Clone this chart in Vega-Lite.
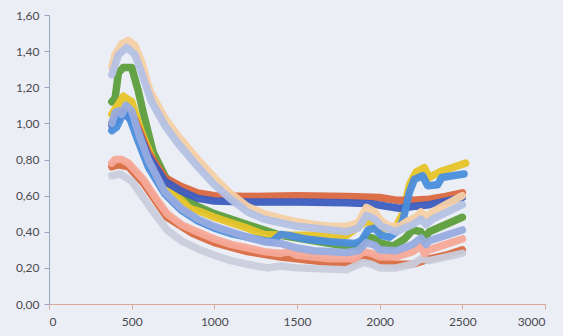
{
  "$schema": "https://vega.github.io/schema/vega-lite/v6.json",
  "width": 496,
  "height": 289,
  "autosize": {"type": "none"},
  "padding": {"left": 49, "top": 15, "right": 18, "bottom": 32},
  "background": "#eceef5",
  "config": {"view": {"stroke": null}, "font": "Lato"},
  "datasets": {
    "spectra": [
      {"s":"k","x":380,"y":0.76},{"s":"k","x":420,"y":0.77},{"s":"k","x":480,"y":0.76},{"s":"k","x":570,"y":0.67},{"s":"k","x":714,"y":0.48},{"s":"k","x":870,"y":0.39},{"s":"k","x":1000,"y":0.34},{"s":"k","x":1200,"y":0.29},{"s":"k","x":1400,"y":0.26},{"s":"k","x":1700,"y":0.23},{"s":"k","x":1850,"y":0.23},{"s":"k","x":1900,"y":0.26},{"s":"k","x":2000,"y":0.24},{"s":"k","x":2100,"y":0.22},{"s":"k","x":2200,"y":0.22},{"s":"k","x":2300,"y":0.25},{"s":"k","x":2400,"y":0.27},{"s":"k","x":2500,"y":0.30},

      {"s":"j","x":380,"y":0.71},{"s":"j","x":430,"y":0.72},{"s":"j","x":500,"y":0.68},{"s":"j","x":600,"y":0.55},{"s":"j","x":714,"y":0.41},{"s":"j","x":800,"y":0.35},{"s":"j","x":914,"y":0.30},{"s":"j","x":1000,"y":0.27},{"s":"j","x":1100,"y":0.24},{"s":"j","x":1200,"y":0.22},{"s":"j","x":1320,"y":0.20},{"s":"j","x":1400,"y":0.21},{"s":"j","x":1500,"y":0.20},{"s":"j","x":1800,"y":0.19},{"s":"j","x":1900,"y":0.23},{"s":"j","x":1950,"y":0.22},{"s":"j","x":2000,"y":0.20},{"s":"j","x":2100,"y":0.20},{"s":"j","x":2200,"y":0.22},{"s":"j","x":2250,"y":0.25},{"s":"j","x":2300,"y":0.24},{"s":"j","x":2500,"y":0.28},

      {"s":"i","x":380,"y":0.78},{"s":"i","x":400,"y":0.80},{"s":"i","x":440,"y":0.80},{"s":"i","x":480,"y":0.78},{"s":"i","x":570,"y":0.69},{"s":"i","x":650,"y":0.58},{"s":"i","x":714,"y":0.50},{"s":"i","x":800,"y":0.44},{"s":"i","x":870,"y":0.41},{"s":"i","x":1000,"y":0.36},{"s":"i","x":1100,"y":0.33},{"s":"i","x":1200,"y":0.31},{"s":"i","x":1300,"y":0.29},{"s":"i","x":1400,"y":0.28},{"s":"i","x":1450,"y":0.29},{"s":"i","x":1500,"y":0.27},{"s":"i","x":1700,"y":0.25},{"s":"i","x":1850,"y":0.25},{"s":"i","x":1900,"y":0.29},{"s":"i","x":1950,"y":0.28},{"s":"i","x":2000,"y":0.26},{"s":"i","x":2100,"y":0.26},{"s":"i","x":2200,"y":0.29},{"s":"i","x":2250,"y":0.32},{"s":"i","x":2270,"y":0.28},{"s":"i","x":2300,"y":0.30},{"s":"i","x":2400,"y":0.33},{"s":"i","x":2500,"y":0.36},

      {"s":"c","x":380,"y":1.12},{"s":"c","x":400,"y":1.14},{"s":"c","x":420,"y":1.28},{"s":"c","x":450,"y":1.31},{"s":"c","x":500,"y":1.31},{"s":"c","x":540,"y":1.18},{"s":"c","x":570,"y":1.06},{"s":"c","x":630,"y":0.84},{"s":"c","x":700,"y":0.71},{"s":"c","x":780,"y":0.62},{"s":"c","x":900,"y":0.54},{"s":"c","x":1000,"y":0.50},{"s":"c","x":1200,"y":0.44},{"s":"c","x":1400,"y":0.38},{"s":"c","x":1600,"y":0.35},{"s":"c","x":1800,"y":0.32},{"s":"c","x":1880,"y":0.32},{"s":"c","x":1920,"y":0.375},{"s":"c","x":1960,"y":0.365},{"s":"c","x":2000,"y":0.34},{"s":"c","x":2080,"y":0.32},{"s":"c","x":2150,"y":0.36},{"s":"c","x":2200,"y":0.41},{"s":"c","x":2250,"y":0.40},{"s":"c","x":2270,"y":0.36},{"s":"c","x":2300,"y":0.40},{"s":"c","x":2400,"y":0.44},{"s":"c","x":2500,"y":0.48},

      {"s":"f","x":380,"y":1.05},{"s":"f","x":450,"y":1.15},{"s":"f","x":500,"y":1.12},{"s":"f","x":560,"y":0.95},{"s":"f","x":650,"y":0.75},{"s":"f","x":750,"y":0.62},{"s":"f","x":850,"y":0.53},{"s":"f","x":920,"y":0.51},{"s":"f","x":1000,"y":0.48},{"s":"f","x":1100,"y":0.45},{"s":"f","x":1200,"y":0.42},{"s":"f","x":1300,"y":0.385},{"s":"f","x":1400,"y":0.38},{"s":"f","x":1800,"y":0.38},{"s":"f","x":1920,"y":0.46},{"s":"f","x":2000,"y":0.41},{"s":"f","x":2100,"y":0.43},{"s":"f","x":2140,"y":0.50},{"s":"f","x":2180,"y":0.66},{"s":"f","x":2220,"y":0.73},{"s":"f","x":2270,"y":0.755},{"s":"f","x":2300,"y":0.70},{"s":"f","x":2370,"y":0.735},{"s":"f","x":2440,"y":0.755},{"s":"f","x":2520,"y":0.78},

      {"s":"h","x":380,"y":1.00},{"s":"h","x":450,"y":1.07},{"s":"h","x":520,"y":1.02},{"s":"h","x":600,"y":0.84},{"s":"h","x":700,"y":0.70},{"s":"h","x":800,"y":0.65},{"s":"h","x":900,"y":0.615},{"s":"h","x":1000,"y":0.60},{"s":"h","x":1200,"y":0.595},{"s":"h","x":1500,"y":0.60},{"s":"h","x":1800,"y":0.595},{"s":"h","x":2000,"y":0.59},{"s":"h","x":2100,"y":0.575},{"s":"h","x":2200,"y":0.575},{"s":"h","x":2300,"y":0.58},{"s":"h","x":2400,"y":0.595},{"s":"h","x":2500,"y":0.615},

      {"s":"g","x":380,"y":0.99},{"s":"g","x":450,"y":1.06},{"s":"g","x":520,"y":1.00},{"s":"g","x":600,"y":0.82},{"s":"g","x":700,"y":0.68},{"s":"g","x":800,"y":0.625},{"s":"g","x":900,"y":0.585},{"s":"g","x":1000,"y":0.57},{"s":"g","x":1200,"y":0.565},{"s":"g","x":1500,"y":0.565},{"s":"g","x":1800,"y":0.56},{"s":"g","x":1950,"y":0.555},{"s":"g","x":2050,"y":0.54},{"s":"g","x":2120,"y":0.53},{"s":"g","x":2200,"y":0.54},{"s":"g","x":2300,"y":0.55},{"s":"g","x":2400,"y":0.57},{"s":"g","x":2500,"y":0.59},

      {"s":"e","x":380,"y":0.96},{"s":"e","x":410,"y":0.98},{"s":"e","x":440,"y":1.04},{"s":"e","x":480,"y":1.05},{"s":"e","x":540,"y":0.90},{"s":"e","x":600,"y":0.76},{"s":"e","x":700,"y":0.61},{"s":"e","x":800,"y":0.52},{"s":"e","x":900,"y":0.46},{"s":"e","x":1000,"y":0.42},{"s":"e","x":1100,"y":0.39},{"s":"e","x":1200,"y":0.37},{"s":"e","x":1300,"y":0.35},{"s":"e","x":1350,"y":0.345},{"s":"e","x":1400,"y":0.385},{"s":"e","x":1450,"y":0.38},{"s":"e","x":1550,"y":0.36},{"s":"e","x":1700,"y":0.345},{"s":"e","x":1850,"y":0.335},{"s":"e","x":1890,"y":0.35},{"s":"e","x":1930,"y":0.41},{"s":"e","x":1970,"y":0.42},{"s":"e","x":2010,"y":0.38},{"s":"e","x":2060,"y":0.37},{"s":"e","x":2100,"y":0.40},{"s":"e","x":2140,"y":0.46},{"s":"e","x":2180,"y":0.62},{"s":"e","x":2210,"y":0.69},{"s":"e","x":2260,"y":0.71},{"s":"e","x":2290,"y":0.655},{"s":"e","x":2350,"y":0.66},{"s":"e","x":2375,"y":0.70},{"s":"e","x":2440,"y":0.71},{"s":"e","x":2510,"y":0.72},

      {"s":"d","x":380,"y":1.00},{"s":"d","x":400,"y":1.06},{"s":"d","x":420,"y":1.07},{"s":"d","x":440,"y":1.05},{"s":"d","x":465,"y":1.10},{"s":"d","x":500,"y":1.07},{"s":"d","x":540,"y":0.95},{"s":"d","x":600,"y":0.80},{"s":"d","x":700,"y":0.62},{"s":"d","x":800,"y":0.53},{"s":"d","x":900,"y":0.47},{"s":"d","x":1000,"y":0.43},{"s":"d","x":1100,"y":0.40},{"s":"d","x":1200,"y":0.37},{"s":"d","x":1300,"y":0.345},{"s":"d","x":1400,"y":0.335},{"s":"d","x":1500,"y":0.31},{"s":"d","x":1600,"y":0.295},{"s":"d","x":1800,"y":0.285},{"s":"d","x":1870,"y":0.295},{"s":"d","x":1920,"y":0.34},{"s":"d","x":1970,"y":0.325},{"s":"d","x":2000,"y":0.30},{"s":"d","x":2100,"y":0.295},{"s":"d","x":2200,"y":0.33},{"s":"d","x":2250,"y":0.365},{"s":"d","x":2280,"y":0.33},{"s":"d","x":2300,"y":0.35},{"s":"d","x":2400,"y":0.38},{"s":"d","x":2500,"y":0.41},

      {"s":"a","x":380,"y":1.31},{"s":"a","x":400,"y":1.38},{"s":"a","x":440,"y":1.44},{"s":"a","x":480,"y":1.46},{"s":"a","x":520,"y":1.43},{"s":"a","x":560,"y":1.34},{"s":"a","x":610,"y":1.18},{"s":"a","x":700,"y":1.03},{"s":"a","x":780,"y":0.93},{"s":"a","x":900,"y":0.80},{"s":"a","x":1000,"y":0.70},{"s":"a","x":1100,"y":0.61},{"s":"a","x":1200,"y":0.54},{"s":"a","x":1300,"y":0.50},{"s":"a","x":1400,"y":0.475},{"s":"a","x":1500,"y":0.455},{"s":"a","x":1600,"y":0.44},{"s":"a","x":1700,"y":0.43},{"s":"a","x":1800,"y":0.43},{"s":"a","x":1870,"y":0.45},{"s":"a","x":1920,"y":0.535},{"s":"a","x":1970,"y":0.51},{"s":"a","x":2010,"y":0.46},{"s":"a","x":2060,"y":0.43},{"s":"a","x":2120,"y":0.43},{"s":"a","x":2170,"y":0.46},{"s":"a","x":2220,"y":0.48},{"s":"a","x":2250,"y":0.51},{"s":"a","x":2280,"y":0.48},{"s":"a","x":2320,"y":0.51},{"s":"a","x":2400,"y":0.55},{"s":"a","x":2500,"y":0.60},

      {"s":"b","x":380,"y":1.27},{"s":"b","x":420,"y":1.38},{"s":"b","x":470,"y":1.42},{"s":"b","x":520,"y":1.38},{"s":"b","x":560,"y":1.28},{"s":"b","x":620,"y":1.12},{"s":"b","x":700,"y":0.99},{"s":"b","x":780,"y":0.89},{"s":"b","x":900,"y":0.76},{"s":"b","x":1000,"y":0.66},{"s":"b","x":1100,"y":0.58},{"s":"b","x":1200,"y":0.51},{"s":"b","x":1300,"y":0.47},{"s":"b","x":1400,"y":0.45},{"s":"b","x":1500,"y":0.43},{"s":"b","x":1800,"y":0.40},{"s":"b","x":1870,"y":0.42},{"s":"b","x":1920,"y":0.49},{"s":"b","x":1970,"y":0.47},{"s":"b","x":2010,"y":0.43},{"s":"b","x":2100,"y":0.40},{"s":"b","x":2200,"y":0.44},{"s":"b","x":2250,"y":0.47},{"s":"b","x":2280,"y":0.44},{"s":"b","x":2320,"y":0.47},{"s":"b","x":2500,"y":0.55}
    ]
  },
  "data": {"name": "spectra"},
  "mark": {"type": "line", "strokeWidth": 7.5, "strokeCap": "round", "strokeJoin": "round", "opacity": 0.95},
  "encoding": {
    "x": {
      "field": "x", "type": "quantitative",
      "scale": {"domain": [0, 3000], "nice": false},
      "axis": {
        "title": null, "values": [0, 500, 1000, 1500, 2000, 2500, 3000], "format": "d", "grid": false,
        "domainColor": "#d8a898", "tickColor": "#d8a898", "tickSize": 5,
        "labelColor": "#4a4a50", "labelFontSize": 12, "labelPadding": 7, "labelFont": "Lato"
      }
    },
    "y": {
      "field": "y", "type": "quantitative",
      "scale": {"domain": [0, 1.6], "nice": false},
      "axis": {
        "title": null, "values": [0, 0.2, 0.4, 0.6, 0.8, 1.0, 1.2, 1.4, 1.6], "grid": false,
        "labelExpr": "replace(format(datum.value, '.2f'), '.', ',')",
        "domainColor": "#9aa4c4", "tickColor": "#9aa4c4", "tickSize": 5,
        "labelColor": "#4a4a50", "labelFontSize": 12, "labelPadding": 5, "labelFont": "Lato"
      }
    },
    "color": {
      "field": "s", "type": "nominal", "legend": null,
      "scale": {
        "domain": ["k", "j", "i", "c", "f", "h", "g", "e", "d", "a", "b"],
        "range": ["#d96a40", "#c9ccdc", "#f5a897", "#5c9e3c", "#e6c328", "#d9673f", "#3d5cbf", "#4a8ddc", "#97abdf", "#f6cfa5", "#b4c1e3"]
      }
    }
  }
}
